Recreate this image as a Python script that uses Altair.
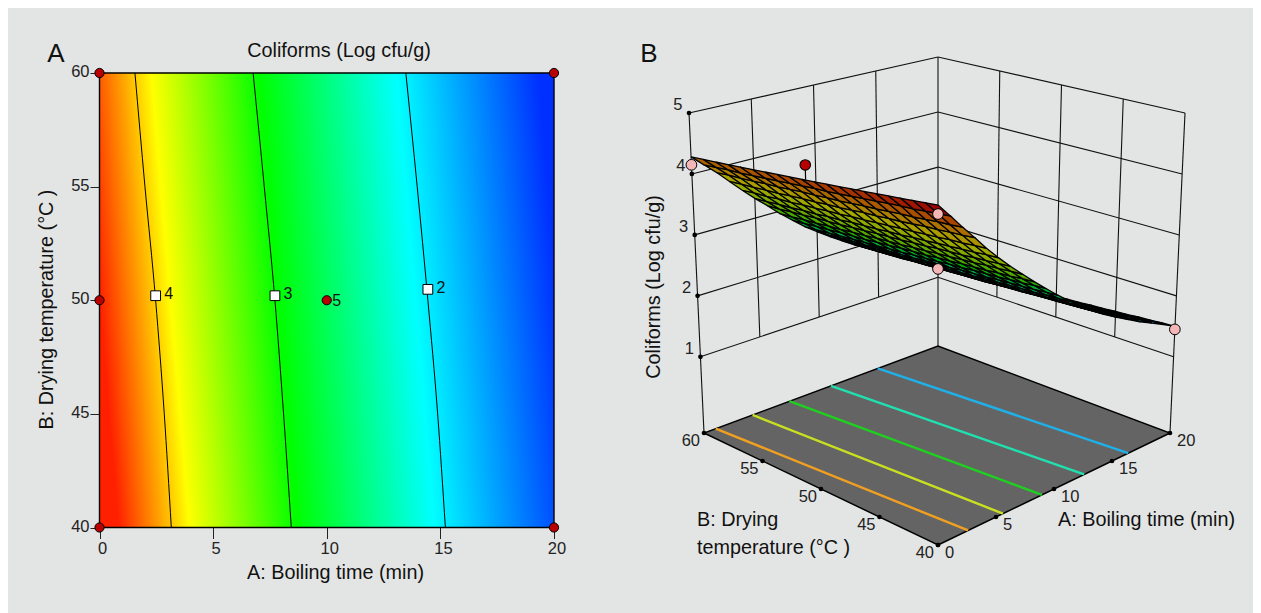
import altair as alt
import numpy as np
import pandas as pd

# ---------- values ----------
BG = "#e3e5e4"
FONT = "Liberation Sans"
A_TICKS = [0, 5, 10, 15, 20]
B_TICKS = [40, 45, 50, 55, 60]
Z_TICKS = [1, 2, 3, 4, 5]
Z_FLOOR = -0.25

# panel A: colour ramp along boiling time
RAMP_OFFSETS = [0, 0.155, 0.39, 0.69, 1]
RAMP_COLORS = ["#ff2000", "#ffff00", "#00ff00", "#00ffff", "#0030ff"]

# panel A: contours (A value, B value)
CONTOUR_4 = [(1.56, 60), (2.0, 55), (2.47, 50), (2.85, 45), (3.16, 40)]
CONTOUR_3 = [(6.76, 60), (7.25, 55), (7.72, 50), (8.1, 45), (8.44, 40)]
CONTOUR_2 = [(13.48, 60), (13.98, 55), (14.45, 50), (14.88, 45), (15.22, 40)]
MARKERS_A = [2.47, 7.72, 14.45]
MARKERS_B = [50.2, 50.2, 50.48]
MARKERS_T = ["4", "3", "2"]
DESIGN_A = [0, 20, 0, 0, 20, 10]
DESIGN_B = [60, 60, 50, 40, 40, 50]

# panel B: response surface, rows B = 40..60, columns A = 0..20
SURFACE = [
 [4.68,4.47,4.25,4.04,3.82,3.62,3.43,3.25,3.07,2.90,2.73,2.57,2.42,2.28,2.15,2.03,1.92,1.81,1.71,1.61,1.50],
 [4.66,4.45,4.23,4.02,3.81,3.61,3.42,3.24,3.06,2.89,2.72,2.56,2.41,2.27,2.14,2.02,1.91,1.80,1.70,1.60,1.49],
 [4.64,4.43,4.22,4.01,3.79,3.59,3.40,3.22,3.04,2.87,2.70,2.55,2.40,2.26,2.13,2.01,1.90,1.79,1.69,1.58,1.47],
 [4.62,4.41,4.20,3.99,3.78,3.58,3.39,3.21,3.03,2.86,2.69,2.53,2.39,2.25,2.12,2.00,1.89,1.78,1.67,1.57,1.46],
 [4.60,4.40,4.18,3.98,3.76,3.56,3.37,3.19,3.01,2.84,2.68,2.52,2.37,2.24,2.11,1.99,1.88,1.76,1.66,1.55,1.44],
 [4.58,4.38,4.17,3.96,3.75,3.55,3.36,3.18,3.00,2.83,2.67,2.51,2.36,2.23,2.10,1.98,1.87,1.75,1.65,1.54,1.43],
 [4.56,4.36,4.15,3.94,3.73,3.53,3.35,3.16,2.99,2.82,2.65,2.50,2.35,2.21,2.09,1.97,1.85,1.74,1.64,1.52,1.41],
 [4.54,4.34,4.13,3.93,3.72,3.52,3.33,3.15,2.97,2.80,2.64,2.49,2.34,2.20,2.08,1.96,1.84,1.73,1.63,1.51,1.40],
 [4.52,4.32,4.12,3.91,3.70,3.50,3.32,3.13,2.96,2.79,2.63,2.47,2.33,2.19,2.07,1.95,1.83,1.72,1.61,1.49,1.38],
 [4.50,4.30,4.10,3.90,3.69,3.49,3.30,3.12,2.94,2.77,2.61,2.46,2.32,2.18,2.06,1.94,1.82,1.71,1.60,1.48,1.37],
 [4.48,4.28,4.08,3.88,3.67,3.47,3.29,3.10,2.93,2.76,2.60,2.45,2.30,2.17,2.04,1.92,1.81,1.69,1.59,1.46,1.35],
 [4.46,4.27,4.07,3.86,3.66,3.46,3.28,3.09,2.92,2.75,2.59,2.44,2.29,2.16,2.03,1.91,1.80,1.68,1.58,1.45,1.34],
 [4.44,4.25,4.05,3.85,3.64,3.45,3.26,3.08,2.90,2.73,2.57,2.43,2.28,2.15,2.02,1.90,1.79,1.67,1.57,1.44,1.32],
 [4.42,4.23,4.04,3.83,3.63,3.43,3.25,3.06,2.89,2.72,2.56,2.41,2.27,2.14,2.01,1.89,1.78,1.66,1.55,1.42,1.31],
 [4.40,4.21,4.02,3.82,3.61,3.42,3.23,3.05,2.87,2.70,2.55,2.40,2.26,2.13,2.00,1.88,1.77,1.65,1.54,1.41,1.29],
 [4.38,4.19,4.00,3.80,3.60,3.40,3.22,3.03,2.86,2.69,2.54,2.39,2.25,2.12,1.99,1.87,1.76,1.64,1.53,1.39,1.28],
 [4.36,4.17,3.99,3.78,3.58,3.39,3.21,3.02,2.85,2.68,2.52,2.38,2.24,2.10,1.98,1.86,1.74,1.63,1.52,1.38,1.26],
 [4.34,4.15,3.97,3.77,3.57,3.37,3.19,3.00,2.83,2.66,2.51,2.37,2.22,2.09,1.97,1.85,1.73,1.61,1.51,1.36,1.25],
 [4.32,4.14,3.95,3.75,3.55,3.36,3.18,2.99,2.82,2.65,2.50,2.35,2.21,2.08,1.96,1.84,1.72,1.60,1.49,1.35,1.23],
 [4.30,4.12,3.94,3.74,3.54,3.34,3.16,2.97,2.80,2.63,2.48,2.34,2.20,2.07,1.95,1.83,1.71,1.59,1.48,1.33,1.22],
 [4.28,4.10,3.92,3.72,3.52,3.33,3.15,2.96,2.79,2.62,2.47,2.33,2.19,2.06,1.94,1.82,1.70,1.58,1.47,1.32,1.20],
]
SURF_Z = [1.2, 2, 2.9, 3.8, 4.5]
SURF_C = ["#0028c0", "#00a8a8", "#00a800", "#a8a800", "#a02000"]

# panel B: floor contours: A at B=40, A at B=60, colour
FLOOR_A40 = [2.6, 5.6, 8.96, 12.6, 16.4]
FLOOR_A60 = [1.0, 4.15, 7.3, 10.85, 14.85]
FLOOR_C = ["#f0a020", "#c8e020", "#20d020", "#20e0b0", "#20b0e8"]

# panel B: design points
PINK_A = [0, 0, 20, 20]
PINK_B = [60, 40, 60, 40]
PINK_Z = [4.15, 4.55, 1.15, 1.45]
RED_A, RED_B, RED_Z, RED_SURF = 0, 50.7, 4.7, 4.47

# ---------- the 3D box: its eight corners in page pixels ----------
BOX_FLOOR = {"F": (938, 545), "L": (704, 433), "R": (1170, 433), "K": (938, 346)}
BOX_TOP = {"F": (938, 183), "L": (689, 113), "R": (1185, 113), "K": (938, 57)}


def proj(A, B, Z):
    a, b, t = A / 20, (B - 40) / 20, (Z - Z_FLOOR) / (5 - Z_FLOOR)
    out = []
    for c in (0, 1):
        low = (1 - a) * (1 - b) * BOX_FLOOR["F"][c] + a * (1 - b) * BOX_FLOOR["R"][c] + (1 - a) * b * BOX_FLOOR["L"][c] + a * b * BOX_FLOOR["K"][c]
        top = (1 - a) * (1 - b) * BOX_TOP["F"][c] + a * (1 - b) * BOX_TOP["R"][c] + (1 - a) * b * BOX_TOP["L"][c] + a * b * BOX_TOP["K"][c]
        out.append(float(low + t * (top - low)))
    return out[0], out[1]


# ---------- scales ----------
W, H = 1245, 605
AX_L, AX_R, AX_T, AX_B = 99.5, 554.0, 73.0, 527.5
sxA = alt.Scale(domain=[0, 20], range=[AX_L - 8, AX_R - 8], nice=False, zero=False)
syA = alt.Scale(domain=[40, 60], range=[AX_B - 8, AX_T - 8], nice=False, zero=False)
sx = alt.Scale(domain=[8, 8 + W], range=[0, W], nice=False, zero=False)
sy = alt.Scale(domain=[8, 8 + H], range=[0, H], nice=False, zero=False)
X = alt.X("x:Q", scale=sx, axis=None)
Y = alt.Y("y:Q", scale=sy, axis=None)
X2, Y2 = alt.X2("x2:Q"), alt.Y2("y2:Q")

# ---------- panel A ----------
axis_style = dict(domain=False, grid=False, tickColor="#222222", labelColor="#222222", titleColor="#111111",
                  labelFont=FONT, titleFont=FONT, labelFontSize=16.5, titleFontSize=19.8, titleFontWeight="normal",
                  labelOverlap=False, labelFlush=False, tickWidth=1, titleBaseline="middle")
xA = alt.X("A:Q", scale=sxA, title="A: Boiling time (min)",
           axis=alt.Axis(values=A_TICKS, format="d", orient="bottom", offset=AX_B - 8 - H, tickSize=11,
                         labelPadding=2, labelOffset=2.5, titleX=327, titleY=44.5, **axis_style))
yA = alt.Y("B:Q", scale=syA, title="B: Drying temperature (°C )",
           axis=alt.Axis(values=B_TICKS, format="d", orient="left", offset=-(AX_L - 8), tickSize=9.5,
                         labelPadding=1, labelOffset=-1.5, titleX=-53.5, titleY=301, **axis_style))
xA0 = alt.X("A:Q", scale=sxA, axis=None)
yA0 = alt.Y("B:Q", scale=syA, axis=None)

gradient = {"gradient": "linear", "x1": 0, "y1": 0.5, "x2": 1, "y2": 0.416,
            "stops": [{"offset": o, "color": c} for o, c in zip(RAMP_OFFSETS, RAMP_COLORS)]}
rect = alt.Chart(pd.DataFrame({"A": [0], "A2": [20], "B": [40], "B2": [60]})).mark_rect(
    fill=gradient, stroke="black", strokeWidth=1.4
).encode(x=xA, x2="A2:Q", y=yA, y2="B2:Q")

cont = pd.DataFrame(
    [{"A": a, "B": b, "c": n} for n, c in enumerate([CONTOUR_4, CONTOUR_3, CONTOUR_2]) for a, b in c]
)
contours = alt.Chart(cont).mark_line(color="black", strokeWidth=1, interpolate="monotone").encode(
    x=xA0, y=yA0, detail="c:N", order=alt.Order("B:Q"))

mk = pd.DataFrame({"A": MARKERS_A, "B": MARKERS_B, "t": MARKERS_T})
squares = alt.Chart(mk).mark_point(shape="square", filled=True, fill="white", stroke="black", strokeWidth=1,
                                   size=95, opacity=1).encode(x=xA0, y=yA0)
sq_text = alt.Chart(mk).mark_text(align="left", dx=8.5, dy=-1.5, font=FONT, fontSize=16, color="#111111").encode(
    x=xA0, y=yA0, text="t:N")
dd = pd.DataFrame({"A": DESIGN_A, "B": DESIGN_B})
design = alt.Chart(dd).mark_point(shape="circle", filled=True, fill="#b80000", stroke="black", strokeWidth=1,
                                  size=85, opacity=1).encode(x=xA0, y=yA0)
five = alt.Chart(pd.DataFrame({"A": [10], "B": [50], "t": ["5"]})).mark_text(
    align="left", dx=5.5, dy=0.5, font=FONT, fontSize=16, color="#111111").encode(x=xA0, y=yA0, text="t:N")
panel_a = [rect, contours, design, squares, sq_text, five]

# ---------- panel B ----------
seg = []
for a in A_TICKS:
    lo = Z_FLOOR if a in (0, 20) else 1
    seg.append((*proj(a, 60, lo), *proj(a, 60, 5)))
for b in B_TICKS[:-1]:
    lo = Z_FLOOR if b == 40 else 1
    seg.append((*proj(20, b, lo), *proj(20, b, 5)))
for z in Z_TICKS:
    seg.append((*proj(0, 60, z), *proj(20, 60, z)))
    seg.append((*proj(20, 60, z), *proj(20, 40, z)))
walls = alt.Chart(pd.DataFrame(seg, columns=["x", "y", "x2", "y2"])).mark_rule(
    color="#111111", strokeWidth=1.1).encode(x=X, y=Y, x2=X2, y2=Y2)

PROJ = dict(type="identity", scale=1, translate=[-8, -8])


def feature(corners, **props):
    ring = [list(proj(*c)) for c in corners]
    ring.append(ring[0])
    return {"type": "Feature", "properties": props, "geometry": {"type": "Polygon", "coordinates": [ring]}}


floor_f = [feature([(0, 40, Z_FLOOR), (20, 40, Z_FLOOR), (20, 60, Z_FLOOR), (0, 60, Z_FLOOR)], z=0)]
floor = alt.Chart(alt.Data(values=floor_f, format=alt.DataFormat(type="json"))).mark_geoshape(
    fill="#646464", stroke="black", strokeWidth=1.5).project(**PROJ)

fl = [(*proj(a0, 40, Z_FLOOR), *proj(a1, 60, Z_FLOOR), c) for a0, a1, c in zip(FLOOR_A40, FLOOR_A60, FLOOR_C)]
floor_lines = alt.Chart(pd.DataFrame(fl, columns=["x", "y", "x2", "y2", "c"])).mark_rule(strokeWidth=2.4).encode(
    x=X, y=Y, x2=X2, y2=Y2, color=alt.Color("c:N", scale=None))

tick_pts = [proj(0, 60, z) for z in Z_TICKS]
tick_pts += [proj(a, 40, Z_FLOOR) for a in A_TICKS] + [proj(0, b, Z_FLOOR) for b in B_TICKS]
dots = alt.Chart(pd.DataFrame(tick_pts, columns=["x", "y"])).mark_point(
    shape="circle", filled=True, color="black", size=22, opacity=1).encode(x=X, y=Y)

stem = alt.Chart(pd.DataFrame([(*proj(RED_A, RED_B, RED_Z), *proj(RED_A, RED_B, RED_SURF))],
                              columns=["x", "y", "x2", "y2"])).mark_rule(color="black", strokeWidth=1.2).encode(
    x=X, y=Y, x2=X2, y2=Y2)
red = alt.Chart(pd.DataFrame([proj(RED_A, RED_B, RED_Z)], columns=["x", "y"])).mark_point(
    shape="circle", filled=True, fill="#b80000", stroke="black", strokeWidth=1.1, size=110, opacity=1).encode(x=X, y=Y)

quads = []
for k in range(19, -1, -1):
    for i in range(19, -1, -1):
        zs = [SURFACE[k][i], SURFACE[k][i + 1], SURFACE[k + 1][i + 1], SURFACE[k + 1][i]]
        quads.append(feature([(i, 40 + k, zs[0]), (i + 1, 40 + k, zs[1]),
                              (i + 1, 41 + k, zs[2]), (i, 41 + k, zs[3])], z=round(sum(zs) / 4, 3)))
surface = alt.Chart(alt.Data(values=quads, format=alt.DataFormat(type="json"))).mark_geoshape(
    stroke="black", strokeWidth=1.3).encode(
    fill=alt.Fill("properties.z:Q", scale=alt.Scale(domain=SURF_Z, range=SURF_C), legend=None)
).project(**PROJ)

pink = alt.Chart(pd.DataFrame([proj(a, b, z) for a, b, z in zip(PINK_A, PINK_B, PINK_Z)], columns=["x", "y"])).mark_point(
    shape="circle", filled=True, fill="#f4b6b6", stroke="black", strokeWidth=1, size=115, opacity=1).encode(x=X, y=Y)


def text_layer(df, align, size, angle=0, color="#222222"):
    return alt.Chart(df).mark_text(align=align, baseline="middle", font=FONT, fontSize=size, angle=angle,
                                   color=color).encode(x=X, y=Y, text="t:N")


z_lab = pd.DataFrame([(proj(0, 60, z)[0] - 6.5, proj(0, 60, z)[1] - 8, str(z)) for z in Z_TICKS], columns=["x", "y", "t"])
a_lab = pd.DataFrame([(proj(a, 40, Z_FLOOR)[0] + 7, proj(a, 40, Z_FLOOR)[1] + 8, str(a)) for a in A_TICKS], columns=["x", "y", "t"])
b_lab = pd.DataFrame([(proj(0, b, Z_FLOOR)[0] - 4, proj(0, b, Z_FLOOR)[1] + 8, str(b)) for b in B_TICKS], columns=["x", "y", "t"])

titles_left = pd.DataFrame([(1058, 520, "A: Boiling time (min)"), (697, 520, "B: Drying"), (697, 548, "temperature (°C )")],
                           columns=["x", "y", "t"])
title_mid = pd.DataFrame([(339, 51, "Coliforms (Log cfu/g)")], columns=["x", "y", "t"])
title_rot = pd.DataFrame([(654, 287, "Coliforms (Log cfu/g)")], columns=["x", "y", "t"])
letters = pd.DataFrame([(56, 54, "A"), (649, 54, "B")], columns=["x", "y", "t"])

panel_b = [
    walls, floor, floor_lines, dots, stem, red, surface, pink,
    text_layer(z_lab, "right", 16.5), text_layer(a_lab, "left", 16.5), text_layer(b_lab, "right", 16.5),
    text_layer(titles_left, "left", 19.8, color="#111111"), text_layer(title_mid, "center", 19.8, color="#111111"),
    text_layer(title_rot, "center", 19.8, angle=270, color="#111111"), text_layer(letters, "center", 26, color="#111111"),
]

chart = alt.layer(*panel_a, *panel_b).resolve_scale(x="independent", y="independent", color="independent").properties(
    width=W, height=H, padding=0, background=BG,
    autosize=alt.AutoSizeParams(type="none"),
).configure_view(stroke=None)

chart.save("out.html", embed_options={"renderer": "svg", "actions": False})
